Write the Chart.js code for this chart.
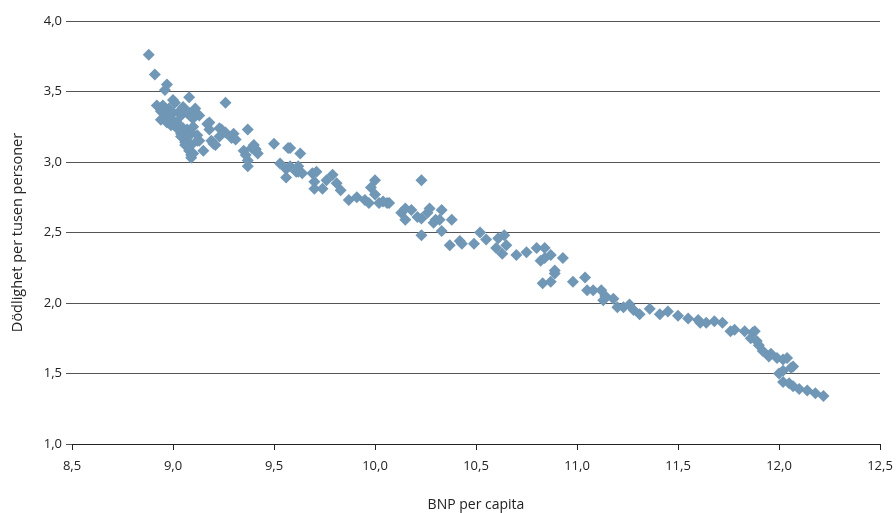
<!DOCTYPE html>
<html>
<head>
<meta charset="utf-8">
<script src="https://cdn.jsdelivr.net/npm/chart.js@4"></script>
<style>
  html, body { margin: 0; padding: 0; background: #fff; }
  #wrap { width: 896px; height: 513px; }
</style>
</head>
<body>
<div id="wrap"><canvas id="myChart" width="896" height="513"></canvas></div>
<script>
// BNP per capita (log) vs deaths per thousand
const gdp = [
  8.88, 8.91, 8.97, 8.96, 9.00, 9.08, 8.92, 8.95, 8.94, 8.98,
  9.01, 9.05, 9.11, 9.26, 8.94, 8.97, 9.00, 8.94, 8.97, 8.99,
  9.02, 9.04, 9.07, 9.09, 9.04, 9.08, 9.13, 9.02, 8.99, 9.01,
  9.03, 9.05, 9.04, 9.07, 9.10, 9.10, 9.09, 9.08, 9.04, 9.12,
  9.13, 9.06, 9.09, 9.07, 9.06, 9.08, 9.09, 9.10, 9.09, 9.12,
  9.15, 9.18, 9.18, 9.17, 9.19, 9.20, 9.21, 9.23, 9.23, 9.24,
  9.26, 9.29, 9.30, 9.31, 9.37, 9.35, 9.36, 9.37, 9.37, 9.39,
  9.40, 9.41, 9.42, 9.50, 9.57, 9.58, 9.63, 9.53, 9.56, 9.56,
  9.58, 9.61, 9.62, 9.64, 9.62, 9.69, 9.71, 9.70, 9.70, 9.74,
  9.76, 9.79, 9.81, 9.83, 9.87, 9.91, 9.95, 9.97, 10.00, 9.98,
  10.00, 10.02, 10.06, 10.07, 10.04, 10.13, 10.15, 10.15, 10.18, 10.21,
  10.23, 10.23, 10.23, 10.26, 10.27, 10.30, 10.29, 10.33, 10.33, 10.32,
  10.38, 10.37, 10.42, 10.43, 10.49, 10.52, 10.55, 10.61, 10.64, 10.60,
  10.63, 10.65, 10.70, 10.75, 10.80, 10.84, 10.87, 10.82, 10.84, 10.93,
  10.89, 10.89, 10.83, 10.87, 10.98, 11.04, 11.05, 11.08, 11.12, 11.14,
  11.13, 11.18, 11.20, 11.23, 11.26, 11.28, 11.31, 11.36, 11.41, 11.45,
  11.50, 11.55, 11.60, 11.61, 11.64, 11.68, 11.72, 11.76, 11.78, 11.83,
  11.87, 11.88, 11.86, 11.89, 11.90, 11.92, 11.96, 11.95, 11.99, 12.02,
  12.04, 12.07, 12.00, 12.02, 12.06, 12.02, 12.05, 12.07, 12.10, 12.14,
  12.18, 12.22
]
const deaths = [
  3.76, 3.62, 3.55, 3.51, 3.44, 3.46, 3.40, 3.40, 3.38, 3.38,
  3.42, 3.39, 3.38, 3.42, 3.36, 3.33, 3.35, 3.30, 3.28, 3.31,
  3.28, 3.33, 3.35, 3.32, 3.37, 3.35, 3.33, 3.24, 3.26, 3.27,
  3.23, 3.24, 3.20, 3.23, 3.25, 3.31, 3.21, 3.19, 3.18, 3.19,
  3.15, 3.14, 3.12, 3.17, 3.12, 3.08, 3.05, 3.06, 3.03, 3.15,
  3.08, 3.23, 3.28, 3.27, 3.15, 3.13, 3.12, 3.18, 3.24, 3.23,
  3.21, 3.17, 3.20, 3.16, 3.23, 3.08, 3.05, 3.01, 2.97, 3.10,
  3.12, 3.09, 3.06, 3.13, 3.10, 3.10, 3.06, 2.99, 2.95, 2.89,
  2.97, 2.93, 2.97, 2.92, 2.93, 2.92, 2.93, 2.86, 2.81, 2.81,
  2.87, 2.91, 2.85, 2.80, 2.73, 2.75, 2.73, 2.71, 2.87, 2.82,
  2.77, 2.71, 2.71, 2.71, 2.72, 2.64, 2.67, 2.59, 2.66, 2.61,
  2.60, 2.87, 2.48, 2.64, 2.67, 2.59, 2.57, 2.51, 2.66, 2.59,
  2.59, 2.41, 2.44, 2.42, 2.42, 2.50, 2.45, 2.46, 2.48, 2.39,
  2.35, 2.41, 2.34, 2.36, 2.39, 2.39, 2.34, 2.30, 2.32, 2.32,
  2.23, 2.21, 2.14, 2.15, 2.15, 2.18, 2.09, 2.09, 2.09, 2.05,
  2.02, 2.03, 1.97, 1.97, 1.99, 1.95, 1.92, 1.96, 1.92, 1.94,
  1.91, 1.89, 1.88, 1.86, 1.86, 1.87, 1.86, 1.80, 1.81, 1.80,
  1.79, 1.80, 1.75, 1.73, 1.70, 1.66, 1.64, 1.62, 1.61, 1.60,
  1.61, 1.55, 1.50, 1.52, 1.54, 1.44, 1.43, 1.41, 1.39, 1.38,
  1.36, 1.34
]
const xTitle = 'BNP per capita'
const yTitle = 'Dödlighet per tusen personer'

const points = []
for (let i = 0; i < gdp.length; i++) {
    points.push({ x: gdp[i], y: deaths[i] })
}

const fmt = (v) => v.toFixed(1).replace('.', ',')
const font = { family: 'Open Sans', size: 13 }

var ctx = document.getElementById('myChart').getContext('2d');
var myChart = new Chart(ctx, {
    type: 'scatter',
    data: {
        datasets: [{
            data: points,
            pointStyle: 'rectRot',
            pointRadius: 6,
            pointBorderWidth: 0,
            backgroundColor: 'rgb(112,151,181)',
            borderColor: 'rgb(112,151,181)'
        }]
    },
    options: {
        responsive: false,
        animation: false,
        layout: { padding: { top: 21, right: 16, left: 0, bottom: 0 } },
        plugins: { legend: { display: false }, tooltip: { enabled: false } },
        scales: {
            x: {
                type: 'linear',
                min: 8.5,
                max: 12.5,
                ticks: { stepSize: 0.5, callback: fmt, font: font, color: '#222', padding: 8, maxRotation: 0 },
                grid: { drawOnChartArea: false, drawTicks: true, tickLength: 6, color: '#222' },
                border: { display: true, color: '#222', width: 1 },
                title: { display: true, text: xTitle, font: { family: 'Open Sans', size: 14 }, color: '#222', padding: { top: 0, bottom: 0 } },
                afterFit: (scale) => {
                    scale.height = 69
                    scale.paddingRight = 0
                    scale.paddingLeft = 0
                }
            },
            y: {
                min: 1,
                max: 4,
                ticks: { stepSize: 0.5, callback: fmt, font: font, color: '#222', padding: 4 },
                grid: { color: '#555', tickLength: 6, drawTicks: true },
                border: { display: false },
                title: { display: true, text: yTitle, font: { family: 'Open Sans', size: 14.5 }, color: '#222', padding: { top: 9, bottom: 0 } },
                afterFit: (scale) => { scale.width = 72 }
            }
        }
    }
});
</script>
</body>
</html>
